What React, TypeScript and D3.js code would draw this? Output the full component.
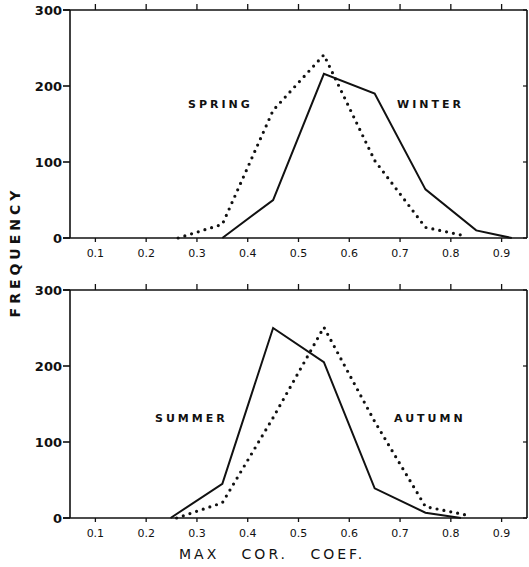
import React from "react";
import * as d3 from "d3";

const xTicks = [0.1, 0.2, 0.3, 0.4, 0.5, 0.6, 0.7, 0.8, 0.9];
const xTickLabels = ["0.1", "0.2", "0.3", "0.4", "0.5", "0.6", "0.7", "0.8", "0.9"];
const yTicks = [0, 100, 200, 300];

const winterX = [0.35, 0.45, 0.55, 0.65, 0.75, 0.85, 0.92];
const winterY = [0, 50, 216, 190, 64, 10, 0];
const springX = [0.263, 0.35, 0.45, 0.55, 0.65, 0.75, 0.82];
const springY = [0, 18, 168, 241, 102, 14, 4];
const summerX = [0.248, 0.35, 0.45, 0.55, 0.65, 0.75, 0.82];
const summerY = [0, 45, 250, 205, 39, 7, 0];
const autumnX = [0.26, 0.35, 0.45, 0.55, 0.65, 0.75, 0.83];
const autumnY = [0, 20, 132, 251, 127, 15, 4];

const W = 529;
const H = 567;
const left = 70;
const right = 527;

const x = d3.scaleLinear().domain([0.05, 0.95]).range([left, right]);

function Panel({ top, bottom, solidX, solidY, dotX, dotY, labels }: any) {
  const y = d3.scaleLinear().domain([0, 300]).range([bottom, top]);
  const line = d3
    .line<[number, number]>()
    .x((d) => x(d[0]))
    .y((d) => y(d[1]));
  const solid = line(solidX.map((v: number, i: number) => [v, solidY[i]]));
  const dotted = line(dotX.map((v: number, i: number) => [v, dotY[i]]));
  const font = "'DejaVu Sans', sans-serif";
  return (
    <g>
      {/* frame */}
      <line x1={left - 7} x2={right} y1={y(300)} y2={y(300)} stroke="#111" strokeWidth={1.6} />
      <line x1={left - 7} x2={right} y1={y(0)} y2={y(0)} stroke="#111" strokeWidth={1.6} />
      <line x1={left} x2={left} y1={y(300)} y2={y(0)} stroke="#111" strokeWidth={1.6} />
      <line x1={right} x2={right} y1={y(300)} y2={y(0)} stroke="#111" strokeWidth={1.6} />
      {yTicks.map((t) => (
        <g key={t}>
          <line x1={left - 7} x2={left} y1={y(t)} y2={y(t)} stroke="#111" strokeWidth={1.6} />
          <line x1={right - 4} x2={right} y1={y(t)} y2={y(t)} stroke="#111" strokeWidth={1.2} />
          <text
            x={left - 8}
            y={y(t) + 5}
            textAnchor="end"
            fontFamily={font}
            fontSize={13}
            fontWeight="bold"
            fill="#111"
          >
            {t}
          </text>
        </g>
      ))}
      {xTicks.map((t, i) => (
        <g key={t}>
          <line x1={x(t)} x2={x(t)} y1={y(300)} y2={y(300) - 6} stroke="#111" strokeWidth={1.3} />
          <line x1={x(t)} x2={x(t)} y1={y(0)} y2={y(0) + 4} stroke="#111" strokeWidth={1.3} />
          <text
            x={x(t)}
            y={y(0) + 19}
            textAnchor="middle"
            fontFamily={font}
            fontSize={11}
            fill="#111"
          >
            {xTickLabels[i]}
          </text>
        </g>
      ))}
      <path d={dotted || ""} fill="none" stroke="#111" strokeWidth={3.2} strokeLinecap="round" strokeDasharray="0 7" />
      <path d={solid || ""} fill="none" stroke="#111" strokeWidth={2} strokeLinejoin="miter" />
      {labels.map((l: any) => (
        <text
          key={l.text}
          x={l.x}
          y={l.y}
          fontFamily={font}
          fontSize={11}
          fontWeight="bold"
          letterSpacing={3}
          fill="#111"
        >
          {l.text}
        </text>
      ))}
    </g>
  );
}

export default function App() {
  return (
    <svg width={W} height={H} style={{ position: "absolute", left: 0, top: 0, background: "#fff" }}>
      <rect width={W} height={H} fill="#fff" />
      <Panel
        top={10}
        bottom={238}
        solidX={winterX}
        solidY={winterY}
        dotX={springX}
        dotY={springY}
        labels={[
          { text: "SPRING", x: 188, y: 108 },
          { text: "WINTER", x: 397, y: 108 },
        ]}
      />
      <Panel
        top={290}
        bottom={518}
        solidX={summerX}
        solidY={summerY}
        dotX={autumnX}
        dotY={autumnY}
        labels={[
          { text: "SUMMER", x: 155, y: 422 },
          { text: "AUTUMN", x: 394, y: 422 },
        ]}
      />
      <text
        transform="translate(20,252) rotate(-90)"
        textAnchor="middle"
        fontFamily="'DejaVu Sans', sans-serif"
        fontSize={14}
        fontWeight="bold"
        letterSpacing={4}
        fill="#111"
      >
        FREQUENCY
      </text>
      <text
        x={179}
        y={559}
        fontFamily="'DejaVu Sans', sans-serif"
        fontSize={14}
        letterSpacing={3}
        fill="#111"
        style={{ whiteSpace: "pre" }}
      >
        {"MAX   COR.   COEF."}
      </text>
    </svg>
  );
}
